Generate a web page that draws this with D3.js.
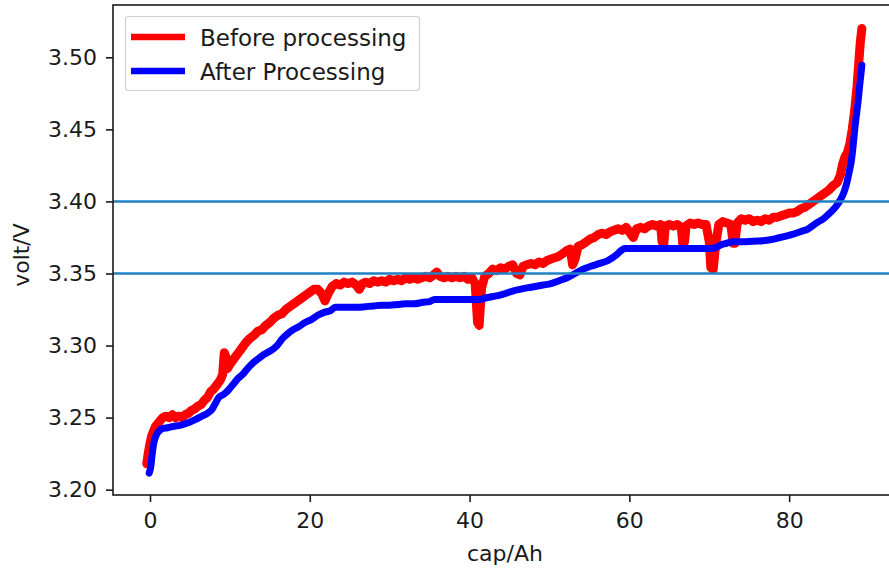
<!DOCTYPE html>
<html>
<head>
<meta charset="utf-8">
<script src="https://cdn.jsdelivr.net/npm/d3@7"></script>
<style>
  html, body { margin: 0; padding: 0; background: #fff; }
  svg { display: block; font-family: "DejaVu Sans", sans-serif; }
</style>
</head>
<body>
<svg id="chart" width="889" height="570"></svg>
<script>
// Charge curve: capacity (Ah) vs. cell voltage (V), raw and processed.
const seriesNames = ["Before processing", "After Processing"];
const seriesColors = ["#ff0000", "#0000ff"];

const xTicks = [0, 20, 40, 60, 80];
const yTicks = [3.20, 3.25, 3.30, 3.35, 3.40, 3.45, 3.50];
const refLevels = [3.40, 3.35];

// raw measurement: [cap, volt]
const beforeCap = [
  -0.4,-0.2,0.0,0.2,0.4,0.7,1.0,1.3,1.6,2.0,2.4,2.8,3.2,3.6,4.0,4.4,4.8,5.2,5.6,6.0,
  6.4,6.8,7.2,7.6,8.0,8.4,8.8,9.1,9.3,9.5,9.7,10.0,10.4,10.8,11.2,11.6,12.0,12.5,13.0,13.5,
  14.0,14.5,15.0,15.5,16.0,16.5,17.0,17.5,18.0,18.5,19.0,19.5,20.0,20.5,21.0,21.5,21.9,22.3,22.8,23.3,
  23.8,24.3,24.8,25.3,25.8,26.2,26.6,27.0,27.5,28.0,28.5,29.0,29.5,30.0,30.5,31.0,31.5,32.0,32.5,33.0,
  33.5,34.0,34.5,35.0,35.5,35.9,36.3,36.8,37.3,37.8,38.3,38.8,39.3,39.8,40.3,40.7,41.0,41.2,41.5,41.9,
  42.4,42.9,43.4,43.9,44.4,44.9,45.4,45.9,46.3,46.7,47.2,47.7,48.2,48.7,49.2,49.7,50.2,50.7,51.2,51.7,
  52.2,52.6,52.9,53.2,53.6,54.1,54.6,55.1,55.6,56.1,56.6,57.1,57.6,58.1,58.6,59.1,59.6,60.1,60.5,60.9,
  61.4,61.9,62.4,62.9,63.4,63.9,64.1,64.3,64.5,65.0,65.5,66.0,66.5,66.7,66.9,67.1,67.6,68.1,68.6,69.1,
  69.6,70.0,70.2,70.5,70.8,71.2,71.7,72.2,72.7,73.0,73.2,73.5,74.0,74.5,75.0,75.5,76.0,76.5,77.0,77.5,
  78.0,78.5,79.0,79.5,80.0,80.5,81.0,81.5,82.0,82.5,83.0,83.5,84.0,84.5,85.0,85.5,86.0,86.4,86.7,87.0,
  87.3,87.6,87.9,88.2,88.5,88.7,88.9,89.1
];
const beforeVolt = [
  3.218,3.226,3.232,3.237,3.240,3.244,3.246,3.248,3.250,3.251,3.250,3.252,3.250,3.251,3.250,3.252,3.253,3.255,3.256,3.258,
  3.259,3.262,3.264,3.268,3.270,3.273,3.276,3.280,3.295,3.292,3.284,3.287,3.290,3.293,3.296,3.299,3.302,3.305,3.307,3.310,
  3.311,3.314,3.316,3.319,3.321,3.322,3.325,3.327,3.329,3.331,3.333,3.335,3.337,3.339,3.339,3.336,3.331,3.336,3.341,3.343,
  3.342,3.344,3.343,3.344,3.342,3.339,3.343,3.344,3.343,3.345,3.344,3.345,3.344,3.346,3.345,3.346,3.345,3.347,3.346,3.347,
  3.346,3.347,3.348,3.347,3.349,3.351,3.348,3.347,3.348,3.347,3.348,3.347,3.348,3.346,3.347,3.343,3.316,3.314,3.340,3.348,
  3.350,3.353,3.352,3.354,3.353,3.355,3.356,3.350,3.349,3.355,3.356,3.357,3.356,3.358,3.357,3.359,3.360,3.361,3.362,3.364,
  3.366,3.367,3.356,3.360,3.369,3.370,3.372,3.374,3.375,3.377,3.378,3.377,3.379,3.380,3.381,3.380,3.382,3.378,3.375,3.381,
  3.382,3.381,3.383,3.384,3.383,3.384,3.372,3.370,3.383,3.384,3.383,3.384,3.382,3.370,3.372,3.383,3.385,3.384,3.385,3.384,
  3.384,3.372,3.354,3.353,3.370,3.384,3.386,3.385,3.384,3.371,3.371,3.385,3.388,3.387,3.388,3.386,3.387,3.386,3.388,3.387,
  3.389,3.389,3.390,3.391,3.392,3.392,3.393,3.395,3.396,3.398,3.400,3.402,3.404,3.406,3.408,3.411,3.413,3.418,3.426,3.431,
  3.434,3.440,3.450,3.463,3.480,3.495,3.510,3.520
];

// processed curve
const afterCap = [
  -0.1,0.1,0.3,0.5,0.8,1.2,1.6,2.2,3.0,4.0,5.0,5.8,6.5,7.2,7.8,8.2,8.6,9.2,9.8,10.4,
  11.0,11.6,12.2,12.9,13.6,14.3,15.0,15.9,16.6,17.2,17.9,18.6,19.4,20.2,21.0,21.8,22.5,23.2,24.0,25.0,
  26.0,27.0,28.0,29.0,30.0,31.0,32.0,33.0,34.2,35.0,35.6,36.3,37.5,38.5,39.5,40.5,41.3,42.0,42.9,43.8,
  44.7,45.5,46.3,47.2,48.2,49.2,50.2,51.2,52.2,53.2,54.2,55.2,56.3,57.3,58.4,59.0,59.4,60.5,62.0,64.0,
  66.0,68.0,70.1,70.8,71.5,72.2,73.0,74.5,76.0,77.2,78.2,79.2,80.3,81.4,82.4,83.4,84.3,85.1,85.8,86.4,
  86.9,87.2,87.5,87.8,88.0,88.2,88.4,88.6,88.8,89.0,89.1
];
const afterVolt = [
  3.2115,3.216,3.226,3.233,3.238,3.241,3.2425,3.243,3.244,3.245,3.247,3.249,3.251,3.253,3.256,3.260,3.264,3.266,3.269,3.273,
  3.277,3.280,3.284,3.288,3.291,3.294,3.296,3.300,3.305,3.308,3.311,3.313,3.316,3.318,3.321,3.323,3.324,3.3265,3.3265,3.3265,
  3.3265,3.327,3.3275,3.328,3.328,3.3285,3.329,3.329,3.330,3.3305,3.332,3.332,3.332,3.332,3.332,3.332,3.332,3.333,3.334,3.335,
  3.3365,3.338,3.339,3.340,3.341,3.342,3.343,3.345,3.347,3.350,3.353,3.355,3.357,3.359,3.363,3.366,3.3674,3.3674,3.3674,3.3674,
  3.3674,3.3674,3.3674,3.368,3.370,3.371,3.372,3.372,3.3725,3.373,3.374,3.3754,3.377,3.379,3.381,3.385,3.388,3.392,3.396,3.401,
  3.407,3.4125,3.420,3.4287,3.438,3.4495,3.459,3.468,3.479,3.489,3.4945
];

const svg = d3.select("#chart");
const W = 889, H = 570;
const plot = { left: 113, right: 897, top: 5, bottom: 495 };

const x = d3.scaleLinear().domain([-4.63, 93.5]).range([plot.left, plot.right]);
const y = d3.scaleLinear().domain([3.1963, 3.5363]).range([plot.bottom, plot.top]);

svg.append("rect").attr("width", W).attr("height", H).attr("fill", "#fff");

svg.append("defs").append("clipPath").attr("id", "plot-clip")
  .append("rect")
  .attr("x", plot.left).attr("y", plot.top)
  .attr("width", plot.right - plot.left).attr("height", plot.bottom - plot.top);

const body = svg.append("g").attr("clip-path", "url(#plot-clip)");

const line = d3.line().x(d => x(d[0])).y(d => y(d[1]));
const before = beforeCap.map((c, i) => [c, beforeVolt[i]]);
const after = afterCap.map((c, i) => [c, afterVolt[i]]);

body.append("path").datum(before)
  .attr("d", line)
  .attr("fill", "none")
  .attr("stroke", seriesColors[0])
  .attr("stroke-width", 9)
  .attr("stroke-linejoin", "round")
  .attr("stroke-linecap", "round");

body.append("path").datum(after)
  .attr("d", line.curve(d3.curveMonotoneX))
  .attr("fill", "none")
  .attr("stroke", seriesColors[1])
  .attr("stroke-width", 7)
  .attr("stroke-linejoin", "round")
  .attr("stroke-linecap", "round");

// reference voltage levels
body.selectAll("line.ref").data(refLevels).enter().append("line")
  .attr("class", "ref")
  .attr("x1", plot.left).attr("x2", plot.right)
  .attr("y1", d => y(d)).attr("y2", d => y(d))
  .attr("stroke", "#1f80c4")
  .attr("stroke-width", 2.6);

// axes
const xAxis = d3.axisBottom(x).tickValues(xTicks).tickFormat(d3.format("d"))
  .tickSize(7).tickPadding(10).tickSizeOuter(0);
const yAxis = d3.axisLeft(y).tickValues(yTicks).tickFormat(d3.format(".2f"))
  .tickSize(7).tickPadding(9).tickSizeOuter(0);

const gx = svg.append("g").attr("transform", `translate(0,${plot.bottom})`).call(xAxis);
const gy = svg.append("g").attr("transform", `translate(${plot.left},0)`).call(yAxis);

[gx, gy].forEach(g => {
  g.select(".domain").remove();
  g.selectAll(".tick line").attr("stroke", "#1a1a1a").attr("stroke-width", 1.6);
  g.selectAll(".tick text").attr("fill", "#1a1a1a")
    .style("font-family", "'DejaVu Sans', sans-serif").style("font-size", "22px");
});

// frame
svg.append("rect")
  .attr("x", plot.left).attr("y", plot.top)
  .attr("width", plot.right - plot.left).attr("height", plot.bottom - plot.top)
  .attr("fill", "none").attr("stroke", "#1a1a1a").attr("stroke-width", 1.6);

// axis titles
svg.append("text")
  .attr("x", (plot.left + plot.right) / 2).attr("y", 561)
  .attr("text-anchor", "middle")
  .attr("fill", "#1a1a1a")
  .style("font-size", "22px")
  .text("cap/Ah");

svg.append("text")
  .attr("transform", `translate(29,${(plot.top + plot.bottom) / 2 + 5}) rotate(-90)`)
  .attr("text-anchor", "middle")
  .attr("fill", "#1a1a1a")
  .style("font-size", "22px")
  .text("volt/V");

// legend
const legend = svg.append("g");
legend.append("rect")
  .attr("x", 125.5).attr("y", 16.5).attr("width", 294).attr("height", 74)
  .attr("rx", 3).attr("ry", 3)
  .attr("fill", "#fff").attr("fill-opacity", 0.85)
  .attr("stroke", "#d0d0d0").attr("stroke-width", 1.2);

seriesNames.forEach((name, i) => {
  const cy = 37 + i * 34;
  legend.append("line")
    .attr("x1", 131).attr("x2", 185).attr("y1", cy).attr("y2", cy)
    .attr("stroke", seriesColors[i]).attr("stroke-width", 6.5);
  legend.append("text")
    .attr("x", 200).attr("y", cy + 8.5)
    .attr("fill", "#1a1a1a")
    .style("font-size", "23px")
    .text(name);
});
</script>
</body>
</html>
